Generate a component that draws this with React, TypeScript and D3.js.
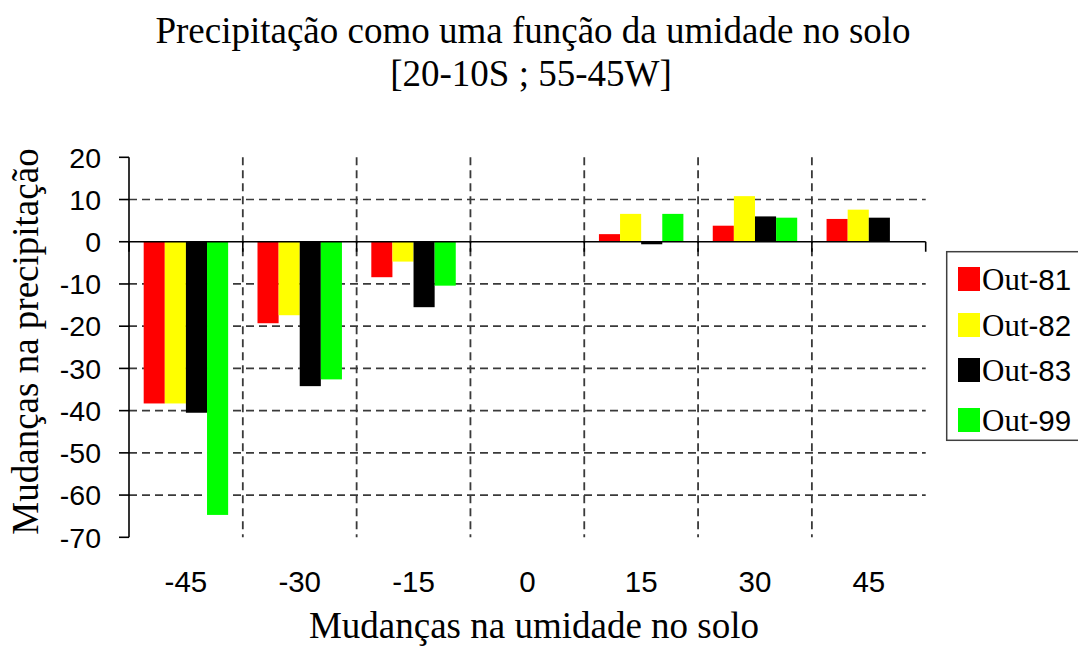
import React from "react";
import * as d3 from "d3";

const categories = ["-45", "-30", "-15", "0", "15", "30", "45"];
const seriesNames = ["Out-81", "Out-82", "Out-83", "Out-99"];
const seriesColors = ["#ff0000", "#ffff00", "#000000", "#00ff00"];
const out81 = [-38.3, -19.3, -8.4, 0, 1.8, 3.8, 5.4];
const out82 = [-38.3, -17.4, -4.7, 0, 6.6, 10.8, 7.6];
const out83 = [-40.5, -34.2, -15.5, 0, -0.6, 6.0, 5.7];
const out99 = [-64.7, -32.6, -10.4, 0, 6.6, 5.7, 0];
const seriesValues = [out81, out82, out83, out99];
const yTicks = [20, 10, 0, -10, -20, -30, -40, -50, -60, -70];
const gridValues = [10, -10, -20, -30, -40, -50, -60];

const W = 1078;
const H = 647;
const serif = "'Liberation Serif', 'Times New Roman', serif";
const sans = "'Liberation Sans', Arial, sans-serif";

export default function App() {
  const x = d3.scaleBand<string>().domain(categories).range([129, 925.7]).padding(0);
  const bw = x.bandwidth();
  const pad = bw * 0.129;
  const xi = d3.scaleBand<string>().domain(seriesNames).range([pad, bw - pad]).padding(0);
  const y = d3.scaleLinear().domain([-70, 20]).range([537.3, 157.3]);
  const boundaries = categories.map((c) => x(c)!).concat([x.range()[1]]);
  const legendY = [279, 325, 370, 420];

  return (
    <svg width={W} height={H} style={{ position: "absolute", left: 0, top: 0, background: "#fff" }}>
      <rect x={0} y={0} width={W} height={H} fill="#fff" />
      {/* title */}
      <text x={533} y={43} textAnchor="middle" fontFamily={serif} fontSize={37} fill="#000">
        Precipitação como uma função da umidade no solo
      </text>
      <text x={531} y={86} textAnchor="middle" fontFamily={serif} fontSize={37} fill="#000">
        [20-10S ; 55-45W]
      </text>

      {/* horizontal grid */}
      {gridValues.map((v) => (
        <line key={"g" + v} x1={129} x2={925.7} y1={y(v)} y2={y(v)} stroke="#3a3a3a" strokeWidth={1.7} strokeDasharray="8,5" />
      ))}
      {/* vertical grid */}
      {boundaries.slice(1, -1).map((b, i) => (
        <line key={"v" + i} x1={b} x2={b} y1={y(20)} y2={y(-70)} stroke="#3a3a3a" strokeWidth={1.8} strokeDasharray="8,5" />
      ))}

      {/* bars */}
      {categories.map((c, ci) =>
        seriesNames.map((s, si) => {
          const v = seriesValues[si][ci];
          if (!v) return null;
          const y0 = y(0);
          const y1 = y(v);
          return (
            <rect
              key={c + s}
              x={x(c)! + xi(s)!}
              width={xi.bandwidth()}
              y={Math.min(y0, y1)}
              height={Math.abs(y1 - y0)}
              fill={seriesColors[si]}
            />
          );
        })
      )}

      {/* zero axis */}
      <line x1={129} x2={925.7} y1={y(0)} y2={y(0)} stroke="#000" strokeWidth={1.6} />
      {boundaries.map((b, i) => (
        <line key={"t" + i} x1={b} x2={b} y1={y(0)} y2={y(0) + 10} stroke="#000" strokeWidth={1.6} />
      ))}
      {/* left axis */}
      <line x1={129} x2={129} y1={y(20)} y2={y(-70)} stroke="#000" strokeWidth={1.6} />
      {yTicks.map((t) => (
        <g key={"yt" + t}>
          <line x1={119} x2={129} y1={y(t)} y2={y(t)} stroke="#000" strokeWidth={1.6} />
          <text x={101} y={y(t)} dy="0.36em" textAnchor="end" fontFamily={sans} fontSize={28.5} fill="#000">
            {t}
          </text>
        </g>
      ))}
      {/* x tick labels */}
      {categories.map((c) => (
        <text key={"xl" + c} x={x(c)! + bw / 2} y={591.5} textAnchor="middle" fontFamily={sans} fontSize={29.5} fill="#000">
          {c}
        </text>
      ))}
      {/* axis titles */}
      <text x={534} y={638} textAnchor="middle" fontFamily={serif} fontSize={37} fill="#000">
        Mudanças na umidade no solo
      </text>
      <text
        transform={`translate(37.5, 341.5) rotate(-90)`}
        textAnchor="middle"
        fontFamily={serif}
        fontSize={37}
        fill="#000"
      >
        Mudanças na precipitação
      </text>

      {/* legend */}
      <rect x={946.7} y={251.7} width={200} height={188.6} fill="#fff" stroke="#404040" strokeWidth={1.5} />
      {seriesNames.map((s, i) => (
        <g key={"lg" + s}>
          <rect x={958} y={legendY[i] - 12} width={22} height={24} fill={seriesColors[i]} />
          <text x={982} y={legendY[i]} dy="0.36em" fontSize={31} fill="#000">
            <tspan fontFamily={serif}>{s.slice(0, 3)}</tspan>
            <tspan fontFamily={sans} fontSize={29.5}>{s.slice(3)}</tspan>
          </text>
        </g>
      ))}
    </svg>
  );
}
